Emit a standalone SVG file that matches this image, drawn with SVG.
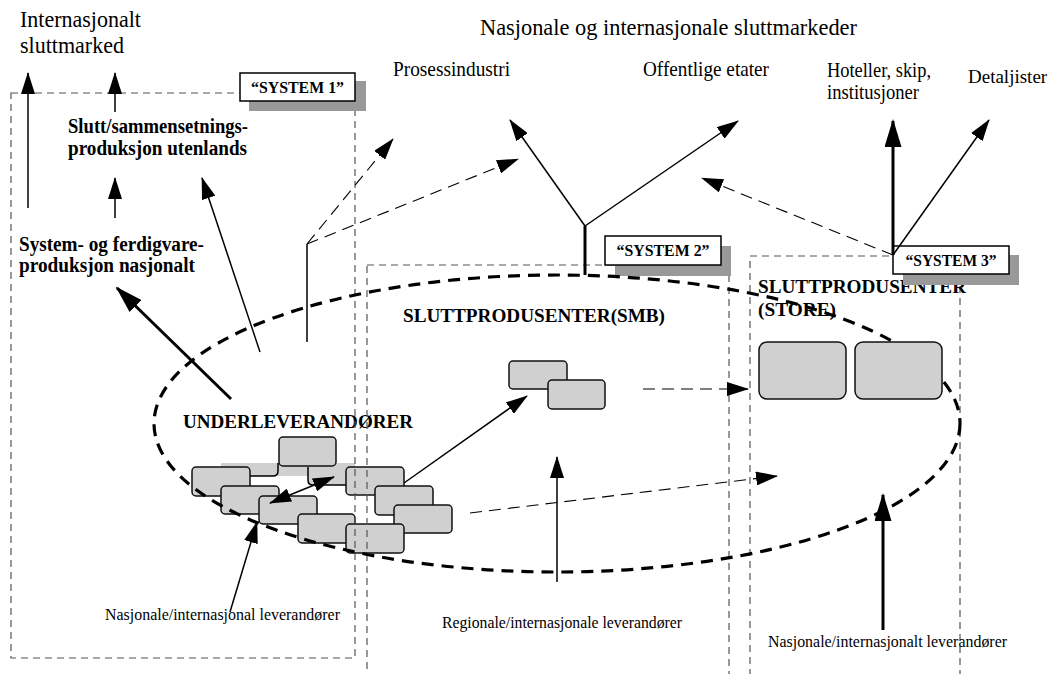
<svg xmlns="http://www.w3.org/2000/svg" width="1051" height="674" viewBox="0 0 1051 674">
  <style>
    text { font-family: "Liberation Serif", "Times New Roman", serif; fill: #000; }
    .market { font-size: 21px; }
    .big { font-size: 23px; }
    .b { font-weight: bold; font-size: 20px; }
    .bh { font-weight: bold; font-size: 19.5px; }
    .tag { font-weight: bold; font-size: 16.5px; text-anchor: middle; }
    .small { font-size: 16.5px; }
    .frame { fill: none; stroke: #555; stroke-width: 1.2; stroke-dasharray: 7 5; }
    .tagbox { fill: #fff; stroke: #000; stroke-width: 1.5; }
    .shadow { fill: #999; stroke: none; }
    .unit { fill: #d0d0d0; stroke: #111; stroke-width: 1.5; }
    .thin { fill: none; stroke: #000; stroke-width: 1.5; }
    .thick { fill: none; stroke: #000; stroke-width: 3; }
    .dash { fill: none; stroke: #000; stroke-width: 1.1; stroke-dasharray: 12 7; }
    .ring { fill: none; stroke: #000; stroke-width: 3.2; stroke-dasharray: 12 8; }
  </style>
  <defs>
    <marker id="ah" markerUnits="userSpaceOnUse" markerWidth="22" markerHeight="14" refX="21" refY="7" orient="auto-start-reverse">
      <path d="M0,0 L22,7 L0,14 Z" fill="#000"/>
    </marker>
    <marker id="ahb" markerUnits="userSpaceOnUse" markerWidth="28" markerHeight="17" refX="26" refY="8.5" orient="auto">
      <path d="M0,0 L28,8.5 L0,17 Z" fill="#000"/>
    </marker>
  </defs>

  <rect width="1051" height="674" fill="#fff"/>

  <!-- market labels -->
  <g id="market-international">
    <text class="big" x="20" y="27" textLength="121" lengthAdjust="spacingAndGlyphs">Internasjonalt</text>
    <text class="big" x="20" y="53" textLength="104" lengthAdjust="spacingAndGlyphs">sluttmarked</text>
  </g>
  <g id="market-heading">
    <text class="big" x="480" y="35" textLength="377" lengthAdjust="spacingAndGlyphs">Nasjonale og internasjonale sluttmarkeder</text>
  </g>
  <g id="market-process"><text class="market" x="393" y="76" textLength="117" lengthAdjust="spacingAndGlyphs">Prosessindustri</text></g>
  <g id="market-public"><text class="market" x="643" y="76" textLength="126" lengthAdjust="spacingAndGlyphs">Offentlige etater</text></g>
  <g id="market-hotels">
    <text class="market" x="827" y="77" textLength="104" lengthAdjust="spacingAndGlyphs">Hoteller, skip,</text>
    <text class="market" x="827" y="99" textLength="92" lengthAdjust="spacingAndGlyphs">institusjoner</text>
  </g>
  <g id="market-retail"><text x="968" y="83" font-size="19">Detaljister</text></g>

  <!-- production level labels -->
  <g id="foreign-assembly">
    <text class="b" x="68" y="133" textLength="180" lengthAdjust="spacingAndGlyphs">Slutt/sammensetnings-</text>
    <text class="b" x="68" y="155" textLength="179" lengthAdjust="spacingAndGlyphs">produksjon utenlands</text>
  </g>
  <g id="national-systems">
    <text class="b" x="19" y="251" textLength="185" lengthAdjust="spacingAndGlyphs">System- og ferdigvare-</text>
    <text class="b" x="19" y="272" textLength="176" lengthAdjust="spacingAndGlyphs">produksjon nasjonalt</text>
  </g>

  <!-- subcontractor cluster -->
  <g id="subcontractors">
    <path d="M221,463 H355 V485 H308 V476 H221 Z" fill="#d0d0d0"/>
    <path d="M278,463 V471 Q278,476 273,476 H250" class="thin" stroke="#111"/>
    <path d="M308,467 V480 Q308,485 313,485 H346" class="thin" stroke="#111"/>
    <rect class="unit" x="279" y="437" width="57" height="29" rx="4"/>
    <rect class="unit" x="192" y="467" width="58" height="29" rx="4"/>
    <rect class="unit" x="221" y="486" width="58" height="28" rx="4"/>
    <rect class="unit" x="259" y="496" width="58" height="28" rx="4"/>
    <rect class="unit" x="298" y="514" width="57" height="29" rx="4"/>
    <rect class="unit" x="346" y="467" width="58" height="28" rx="4"/>
    <rect class="unit" x="375" y="486" width="58" height="29" rx="4"/>
    <rect class="unit" x="394" y="505" width="58" height="28" rx="4"/>
    <rect class="unit" x="346" y="524" width="58" height="29" rx="4"/>
    <text class="bh" x="183" y="428" textLength="230" lengthAdjust="spacingAndGlyphs">UNDERLEVERANDØRER</text>
  </g>

  <!-- small and medium final producers -->
  <g id="producers-smb">
    <rect class="unit" x="509" y="361" width="58" height="28" rx="4"/>
    <rect class="unit" x="548" y="380" width="57" height="29" rx="4"/>
    <text class="bh" x="403" y="322" textLength="262" lengthAdjust="spacingAndGlyphs">SLUTTPRODUSENTER(SMB)</text>
  </g>

  <!-- system frames -->
  <g id="system-1">
    <rect class="frame" x="11" y="93" width="344" height="565"/>
    <rect class="shadow" x="249" y="81" width="117" height="30"/>
    <rect class="tagbox" x="240" y="73" width="115" height="28"/>
    <text class="tag" x="297.5" y="93" textLength="93" lengthAdjust="spacingAndGlyphs">“SYSTEM 1”</text>
  </g>
  <g id="system-2">
    <rect class="frame" x="367" y="265" width="362" height="440"/>
    <rect class="shadow" x="615" y="246" width="116" height="30"/>
    <rect class="tagbox" x="605" y="236" width="116" height="29"/>
    <text class="tag" x="663" y="256" textLength="93" lengthAdjust="spacingAndGlyphs">“SYSTEM 2”</text>
  </g>
  <g id="system-3">
    <rect class="frame" x="750" y="256" width="210" height="450"/>
  </g>

  <!-- supplier labels -->
  <g id="suppliers-national"><text class="small" x="105" y="620" textLength="235" lengthAdjust="spacingAndGlyphs">Nasjonale/internasjonal leverandører</text></g>
  <g id="suppliers-regional"><text class="small" x="442" y="628" textLength="240" lengthAdjust="spacingAndGlyphs">Regionale/internasjonale leverandører</text></g>
  <g id="suppliers-large"><text class="small" x="768" y="647" textLength="239" lengthAdjust="spacingAndGlyphs">Nasjonale/internasjonalt leverandører</text></g>

  <!-- network boundary -->
  <g id="network">
    <ellipse class="ring" cx="557" cy="423.5" rx="403" ry="148.5"/>
  </g>

  <!-- large final producers -->
  <g id="producers-large">
    <text class="bh" x="758" y="293" textLength="208" lengthAdjust="spacingAndGlyphs">SLUTTPRODUSENTER</text>
    <text class="bh" x="758" y="316" textLength="78" lengthAdjust="spacingAndGlyphs">(STORE)</text>
    <rect class="unit" x="759" y="342" width="87" height="57" rx="8"/>
    <rect class="unit" x="855" y="342" width="87" height="57" rx="8"/>
  </g>

  <g id="system-3-tag">
    <rect class="shadow" x="903" y="255" width="116" height="30"/>
    <rect class="tagbox" x="893" y="246" width="116" height="28"/>
    <text class="tag" x="951" y="266" textLength="91" lengthAdjust="spacingAndGlyphs">“SYSTEM 3”</text>
  </g>

  <!-- flows -->
  <g id="connectors">
    <path class="thin" d="M28,208 V73" marker-end="url(#ah)"/>
    <path class="thin" d="M115,112 V73" marker-end="url(#ah)"/>
    <path class="thin" d="M115,218 V178" marker-end="url(#ah)"/>
    <path class="thin" d="M260,352 L202,178" marker-end="url(#ah)"/>
    <path class="thick" d="M231,399 L117,288" marker-end="url(#ahb)"/>
    <path class="thin" stroke-width="1.3" d="M307,342 V244"/>
    <path class="dash" d="M307,244 L393,139" marker-end="url(#ah)"/>
    <path class="dash" d="M307,244 L518,159" marker-end="url(#ah)"/>
    <path class="thick" d="M585,275 V226"/>
    <path class="thin" d="M585,226 L510,120" marker-end="url(#ah)"/>
    <path class="thin" d="M585,226 L738,121" marker-end="url(#ah)"/>
    <path class="thick" d="M893,255 V121" marker-end="url(#ahb)"/>
    <path class="thin" d="M893,255 L989,120" marker-end="url(#ah)"/>
    <path class="dash" d="M893,255 L702,178" marker-end="url(#ah)"/>
    <path class="thin" d="M270,503 L334,477" marker-start="url(#ah)" marker-end="url(#ah)"/>
    <path class="thin" d="M404,483 L527,396" marker-end="url(#ah)"/>
    <path class="thin" d="M230,612 L257,522" marker-end="url(#ah)"/>
    <path class="thin" d="M557,582 V457" marker-end="url(#ah)"/>
    <path class="thick" d="M883,630 V495" marker-end="url(#ahb)"/>
    <path class="dash" d="M643,389 H748" marker-end="url(#ah)"/>
    <path class="dash" d="M470,513 L777,476" marker-end="url(#ah)"/>
  </g>
</svg>
